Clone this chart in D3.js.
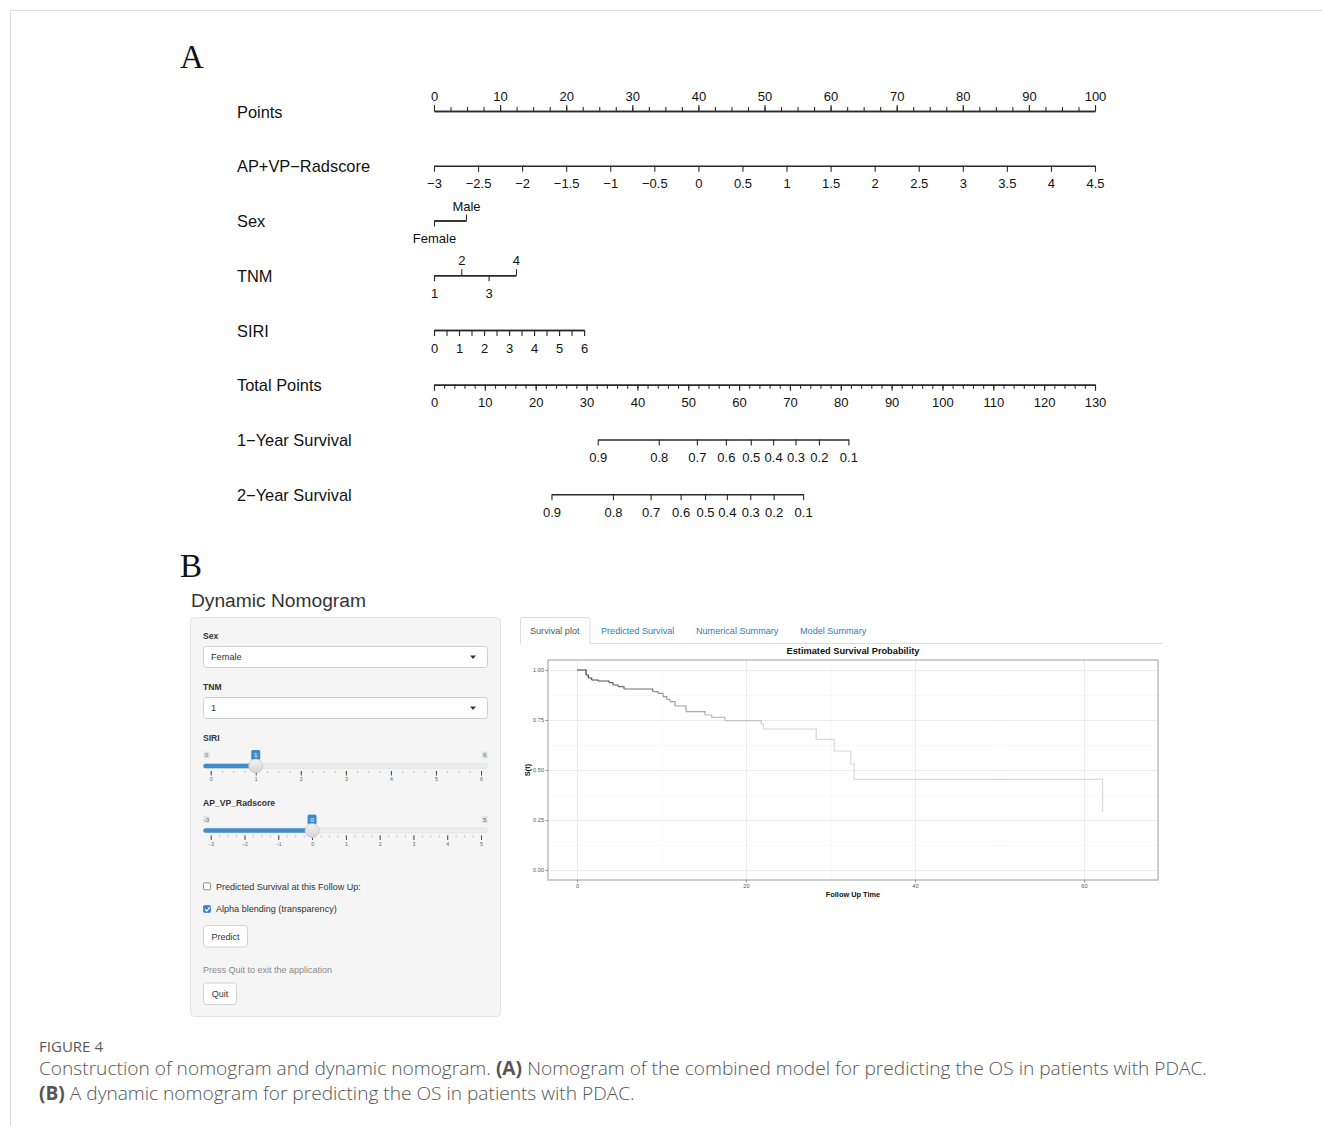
<!DOCTYPE html>
<html>
<head>
<meta charset="utf-8">
<script src="https://cdn.jsdelivr.net/npm/d3@7"></script>
<style>
  body { margin: 0; background: #fff; }
  svg { display: block; }
</style>
</head>
<body>
<svg id="fig" width="1322" height="1126"></svg>
<script>
// ---------- panel A : nomogram ----------
const rowLabels = ["Points", "AP+VP−Radscore", "Sex", "TNM", "SIRI", "Total Points", "1−Year Survival", "2−Year Survival"];
const pointsTicks = d3.range(0, 101, 10);
const radscoreTicks = [-3, -2.5, -2, -1.5, -1, -0.5, 0, 0.5, 1, 1.5, 2, 2.5, 3, 3.5, 4, 4.5];
const radscorePoints = [0, 100];          // points at radscore -3 and 4.5
const sexLevels = ["Female", "Male"];
const sexPoints = [0, 4.84];
const tnmLevels = ["1", "2", "3", "4"];
const tnmPoints = [0, 4.13, 8.26, 12.4];
const siriTicks = [0, 1, 2, 3, 4, 5, 6];
const siriPoints = [0, 22.7];             // points at SIRI 0 and 6
const totalTicks = d3.range(0, 131, 10);
const survTicks = [0.9, 0.8, 0.7, 0.6, 0.5, 0.4, 0.3, 0.2, 0.1];
const oneYearTotals = [32.2, 44.2, 51.7, 57.4, 62.3, 66.7, 71.1, 75.7, 81.5];
const twoYearTotals = [23.1, 35.2, 42.6, 48.5, 53.3, 57.6, 62.2, 66.8, 72.6];

// ---------- panel B : dynamic nomogram ----------
const sexValue = "Female";
const tnmValue = "1";
const siriRange = [0, 6], siriValue = 1;
const radRange = [-3, 5], radValue = 0;
const tabNames = ["Survival plot", "Predicted Survival", "Numerical Summary", "Model Summary"];
const kmTimes = [0, 1.07, 1.34, 1.74, 2.49, 3.79, 4.26, 4.85, 5.56, 8.96, 9.59, 10.18, 10.62, 11.0, 11.6, 12.9, 15.15, 15.94, 17.5, 21.8, 22.05, 28.3, 30.45, 32.4, 32.8, 62.2];
const kmSurv  = [1.0, 0.975, 0.96, 0.95, 0.945, 0.937, 0.925, 0.917, 0.905, 0.892, 0.883, 0.867, 0.853, 0.842, 0.82, 0.792, 0.775, 0.763, 0.747, 0.73, 0.705, 0.653, 0.595, 0.53, 0.453, 0.29];
const kmXTicks = [0, 20, 40, 60];
const kmYTicks = [0, 0.25, 0.5, 0.75, 1];

const svg = d3.select("#fig");
const SANS = "'Liberation Sans', Arial, Helvetica, sans-serif";

function fit(sel, w) {
  const len = sel.node().getComputedTextLength();
  const fs = parseFloat(sel.attr("font-size"));
  sel.attr("font-size", (fs * w / len).toFixed(2));
  return sel;
}

// frame lines
svg.append("line").attr("x1", 10).attr("x2", 1322).attr("y1", 10.5).attr("y2", 10.5).attr("stroke", "#dcdcdc");
svg.append("line").attr("x1", 10.5).attr("x2", 10.5).attr("y1", 10).attr("y2", 1126).attr("stroke", "#dcdcdc");

// ================= A =================
svg.append("text").attr("x", 180).attr("y", 68).attr("font-family", "'Liberation Serif', 'Times New Roman', serif")
  .attr("font-size", 33).attr("fill", "#111").text("A");

const nomo = svg.append("g");
const rowY = i => 111 + i * 54.75;
const px = d3.scaleLinear([0, 100], [434, 1095]);
const tx = d3.scaleLinear([0, 130], [434, 1095]);
const minus = d => (d < 0 ? "−" : "") + Math.abs(d);
const plain = d3.format("");

nomo.selectAll("text.row").data(rowLabels).join("text")
  .attr("class", "row")
  .attr("x", 237).attr("y", (d, i) => rowY(i) + 6.5)
  .attr("font-family", SANS).attr("font-size", 16.4).attr("fill", "#111")
  .text(d => d);

function axisRow(i, axis) {
  const g = nomo.append("g").attr("transform", `translate(0,${rowY(i)})`).call(axis);
  g.attr("font-family", SANS).attr("font-size", 13);
  g.select(".domain").attr("stroke", "#2a2a2a").attr("stroke-width", 1.3);
  g.selectAll(".tick line").attr("stroke", "#2a2a2a").attr("stroke-width", 1.1);
  g.selectAll(".tick text").attr("fill", "#111");
  return g;
}
const BP = 7.5; // label padding below axis

// Points
axisRow(0, d3.axisTop(px).tickValues(d3.range(0, 100.1, 2.5)).tickSize(4).tickSizeOuter(0).tickFormat(""));
axisRow(0, d3.axisTop(px).tickValues(pointsTicks).tickSize(6).tickSizeOuter(0).tickPadding(4.5).tickFormat(plain));

// Radscore
const radX = d3.scaleLinear([-3, 4.5], radscorePoints.map(px));
axisRow(1, d3.axisBottom(radX).tickValues(radscoreTicks).tickSize(6).tickSizeOuter(0).tickPadding(BP).tickFormat(minus));

// Sex
const sexX = d3.scaleOrdinal(sexLevels, sexPoints.map(px));
axisRow(2, d3.axisBottom(sexX).tickValues(["Female"]).tickSize(6).tickSizeOuter(0).tickPadding(BP));
axisRow(2, d3.axisTop(sexX).tickValues(["Male"]).tickSize(6).tickSizeOuter(0).tickPadding(4));

// TNM
const tnmX = d3.scaleOrdinal(tnmLevels, tnmPoints.map(px));
axisRow(3, d3.axisBottom(tnmX).tickValues(["1", "3"]).tickSize(6).tickSizeOuter(0).tickPadding(BP));
axisRow(3, d3.axisTop(tnmX).tickValues(["2", "4"]).tickSize(6).tickSizeOuter(0).tickPadding(4.5));

// SIRI
const siriX = d3.scaleLinear([0, 6], siriPoints.map(px));
axisRow(4, d3.axisBottom(siriX).tickValues(d3.range(0, 6.01, 0.5)).tickSize(6).tickSizeOuter(0).tickFormat(""));
axisRow(4, d3.axisBottom(siriX).tickValues(siriTicks).tickSize(6).tickSizeOuter(0).tickPadding(BP).tickFormat(plain));

// Total points
axisRow(5, d3.axisBottom(tx).tickValues(d3.range(0, 130.1, 2)).tickSize(4).tickSizeOuter(0).tickFormat(""));
axisRow(5, d3.axisBottom(tx).tickValues(totalTicks).tickSize(6).tickSizeOuter(0).tickPadding(BP).tickFormat(plain));

// survival
const f1 = d3.format(".1f");
const y1X = d3.scaleOrdinal(survTicks, oneYearTotals.map(tx));
axisRow(6, d3.axisBottom(y1X).tickValues(survTicks).tickSize(6).tickSizeOuter(0).tickPadding(BP).tickFormat(f1));
const y2X = d3.scaleOrdinal(survTicks, twoYearTotals.map(tx));
axisRow(7, d3.axisBottom(y2X).tickValues(survTicks).tickSize(6).tickSizeOuter(0).tickPadding(BP).tickFormat(f1));

// ================= B =================
svg.append("text").attr("x", 180).attr("y", 577).attr("font-family", "'Liberation Serif', 'Times New Roman', serif")
  .attr("font-size", 33).attr("fill", "#111").text("B");
fit(svg.append("text").attr("x", 191).attr("y", 607).attr("font-family", SANS)
  .attr("font-size", 19).attr("fill", "#333").text("Dynamic Nomogram"), 175);

// ---- sidebar ----
const side = svg.append("g").attr("font-family", SANS);
side.append("rect").attr("x", 190.5).attr("y", 617.5).attr("width", 310).attr("height", 399).attr("rx", 4)
  .attr("fill", "#f5f5f5").attr("stroke", "#e3e3e3");

function label(y, t) {
  side.append("text").attr("x", 203).attr("y", y).attr("font-size", 8.6).attr("font-weight", "bold")
    .attr("fill", "#333").text(t);
}
function select(y, t) {
  side.append("rect").attr("x", 203.5).attr("y", y).attr("width", 284).attr("height", 21).attr("rx", 3)
    .attr("fill", "#fff").attr("stroke", "#cfcfcf");
  side.append("text").attr("x", 211).attr("y", y + 13.7).attr("font-size", 9.2).attr("fill", "#333").text(t);
  side.append("path").attr("d", `M470,${y + 9}h6l-3,3.5z`).attr("fill", "#333");
}
label(639, "Sex");
select(646.5, sexValue);
label(690, "TNM");
select(697.5, tnmValue);

function slider(y0, name, range, value, step) {
  label(y0, name);
  const sx = d3.scaleLinear(range, [210.7, 481]);
  const by = y0 + 9;
  // min / max boxes
  [[range[0], 203.3], [range[1], 481.5]].forEach(([v, x]) => {
    side.append("rect").attr("x", x).attr("y", by + 1.5).attr("width", 6.5).attr("height", 7).attr("rx", 1)
      .attr("fill", "#e1e3e6");
    side.append("text").attr("x", x + 3.25).attr("y", by + 7).attr("text-anchor", "middle")
      .attr("font-size", 5.5).attr("fill", "#666").text(v);
  });
  const vx = sx(value);
  side.append("rect").attr("x", vx - 4.5).attr("y", by).attr("width", 9).attr("height", 10).attr("rx", 1.5)
    .attr("fill", "#428bca");
  side.append("text").attr("x", vx).attr("y", by + 7.3).attr("text-anchor", "middle")
    .attr("font-size", 6).attr("fill", "#fff").text(value);
  const ty = y0 + 25;
  side.append("rect").attr("x", 203.3).attr("y", ty - 2.3).attr("width", 284.4).attr("height", 4.6).attr("rx", 2.3)
    .attr("fill", "#ededed").attr("stroke", "#dadada").attr("stroke-width", 0.6);
  side.append("rect").attr("x", 203.3).attr("y", ty - 2.3).attr("width", vx - 203.3).attr("height", 4.6).attr("rx", 2.3)
    .attr("fill", "#428bca");
  // grid ticks
  const minor = d3.range(range[0], range[1] + 1e-6, step);
  const gm = side.append("g").attr("transform", `translate(0,${ty + 5})`)
    .call(d3.axisBottom(sx).tickValues(minor).tickSize(2).tickSizeOuter(0).tickFormat(""));
  gm.select(".domain").remove();
  gm.selectAll(".tick line").attr("stroke", "#999").attr("stroke-width", 0.6);
  const majors = d3.range(range[0], range[1] + 1e-6, 1);
  const gM = side.append("g").attr("transform", `translate(0,${ty + 5})`)
    .call(d3.axisBottom(sx).tickValues(majors).tickSize(4.5).tickSizeOuter(0).tickPadding(2).tickFormat(d3.format("")));
  gM.select(".domain").remove();
  gM.attr("font-family", SANS).attr("font-size", 5.2);
  gM.selectAll(".tick line").attr("stroke", "#333").attr("stroke-width", 0.9);
  gM.selectAll(".tick text").attr("fill", "#666");
  // handle
  const grad = svg.append("defs").append("linearGradient").attr("id", "hg" + y0).attr("x1", 0).attr("x2", 0).attr("y1", 0).attr("y2", 1);
  grad.append("stop").attr("offset", "0").attr("stop-color", "#f2f2f2");
  grad.append("stop").attr("offset", "1").attr("stop-color", "#d4d4d4");
  side.append("circle").attr("cx", vx).attr("cy", ty).attr("r", 7).attr("fill", `url(#hg${y0})`)
    .attr("stroke", "#c4c4c4").attr("stroke-width", 0.8);
}
slider(741, "SIRI", siriRange, siriValue, 0.25);
slider(805.5, "AP_VP_Radscore", radRange, radValue, 0.25);

// checkboxes
side.append("rect").attr("x", 203.5).attr("y", 882.8).attr("width", 7).attr("height", 7).attr("rx", 1)
  .attr("fill", "#fff").attr("stroke", "#777").attr("stroke-width", 0.8);
side.append("text").attr("x", 216).attr("y", 889.6).attr("font-size", 9.05).attr("fill", "#333")
  .text("Predicted Survival at this Follow Up:");
side.append("rect").attr("x", 203.5).attr("y", 905.5).attr("width", 7).attr("height", 7).attr("rx", 1)
  .attr("fill", "#3c7fd6").attr("stroke", "#2f6bbd").attr("stroke-width", 0.6);
side.append("path").attr("d", "M205,909.2l1.8,1.8l3,-3.8").attr("fill", "none").attr("stroke", "#fff").attr("stroke-width", 1.2);
side.append("text").attr("x", 216).attr("y", 912.4).attr("font-size", 9.05).attr("fill", "#333")
  .text("Alpha blending (transparency)");

function button(x, y, w, t) {
  side.append("rect").attr("x", x).attr("y", y).attr("width", w).attr("height", 21.5).attr("rx", 3)
    .attr("fill", "#fff").attr("stroke", "#d2d2d2");
  side.append("text").attr("x", x + w / 2).attr("y", y + 14).attr("text-anchor", "middle")
    .attr("font-size", 9).attr("fill", "#333").text(t);
}
button(203.5, 925.5, 44, "Predict");
side.append("text").attr("x", 203).attr("y", 973).attr("font-size", 9).attr("fill", "#8a8a8a")
  .text("Press Quit to exit the application");
button(203.5, 983, 33, "Quit");

// ---- tabs ----
const tabs = svg.append("g").attr("font-family", SANS);
tabs.append("path").attr("d", "M520.5,643.5V619.5q0,-2 2,-2H588q2,0 2,2V643.5").attr("fill", "#fff").attr("stroke", "#ddd");
tabs.append("line").attr("x1", 590).attr("x2", 1162).attr("y1", 643.5).attr("y2", 643.5).attr("stroke", "#ddd");
const tabX = [530, 601, 696, 800];
tabNames.forEach((t, i) => {
  tabs.append("text").attr("x", tabX[i]).attr("y", 634).attr("font-size", 9.1)
    .attr("fill", i === 0 ? "#555" : "#337ab7").text(t);
});

// ---- survival plot ----
const km = svg.append("g").attr("font-family", SANS);
const kx = d3.scaleLinear([-3.43, 68.76], [548, 1158]);
const ky = d3.scaleLinear([-0.05, 1.05], [880, 660]);
fit(km.append("text").attr("x", 853).attr("y", 654).attr("text-anchor", "middle").attr("font-size", 9)
  .attr("font-weight", "bold").attr("fill", "#111").text("Estimated Survival Probability"), 133);

km.append("rect").attr("x", 548).attr("y", 660).attr("width", 610).attr("height", 220).attr("fill", "#fff");
// minor grid
const gxm = km.append("g").attr("transform", "translate(0,880)")
  .call(d3.axisBottom(kx).tickValues([10, 30, 50]).tickSize(-220).tickFormat(""));
const gym = km.append("g").attr("transform", "translate(548,0)")
  .call(d3.axisLeft(ky).tickValues([0.125, 0.375, 0.625, 0.875]).tickSize(-610).tickFormat(""));
[gxm, gym].forEach(g => { g.select(".domain").remove(); g.selectAll(".tick line").attr("stroke", "#f3f3f3").attr("stroke-width", 0.6); });
// major grid
const gxM = km.append("g").attr("transform", "translate(0,880)")
  .call(d3.axisBottom(kx).tickValues(kmXTicks).tickSize(-220).tickFormat(""));
const gyM = km.append("g").attr("transform", "translate(548,0)")
  .call(d3.axisLeft(ky).tickValues(kmYTicks).tickSize(-610).tickFormat(""));
[gxM, gyM].forEach(g => { g.select(".domain").remove(); g.selectAll(".tick line").attr("stroke", "#ebebeb").attr("stroke-width", 1); });

// curve with fading alpha
const shade = d3.scaleLinear().domain([0, 8, 16, 24]).range(["#3a3a3a", "#8c8c8c", "#bdbdbd", "#dadada"]).clamp(true);
d3.range(kmTimes.length - 1).forEach(i => {
  km.append("path")
    .attr("d", `M${kx(kmTimes[i])},${ky(kmSurv[i])}H${kx(kmTimes[i + 1])}V${ky(kmSurv[i + 1])}`)
    .attr("fill", "none").attr("stroke", shade(kmTimes[i])).attr("stroke-width", 1.2);
});

km.append("rect").attr("x", 548).attr("y", 660).attr("width", 610).attr("height", 220)
  .attr("fill", "none").attr("stroke", "#b8b8b8").attr("stroke-width", 1.4);

const ax = km.append("g").attr("transform", "translate(0,880)")
  .call(d3.axisBottom(kx).tickValues(kmXTicks).tickSize(2.5).tickSizeOuter(0).tickPadding(1.5).tickFormat(plain));
const ay = km.append("g").attr("transform", "translate(548,0)")
  .call(d3.axisLeft(ky).tickValues(kmYTicks).tickSize(2.5).tickSizeOuter(0).tickPadding(1.5).tickFormat(d3.format(".2f")));
[ax, ay].forEach(g => {
  g.select(".domain").remove();
  g.attr("font-family", SANS).attr("font-size", 5.6);
  g.selectAll(".tick line").attr("stroke", "#555").attr("stroke-width", 0.6);
  g.selectAll(".tick text").attr("fill", "#555");
});
km.append("text").attr("x", 853).attr("y", 896.5).attr("text-anchor", "middle").attr("font-size", 7.4)
  .attr("font-weight", "bold").attr("fill", "#111").text("Follow Up Time");
km.append("text").attr("transform", "translate(529.5,770) rotate(-90)").attr("text-anchor", "middle")
  .attr("font-size", 7.4).attr("font-weight", "bold").attr("fill", "#111").text("S(t)");

// ================= caption =================
const cap = svg.append("g").attr("font-family", "'Open Sans', 'Noto Sans', sans-serif").attr("fill", "#555");
fit(cap.append("text").attr("x", 39).attr("y", 1052).attr("font-size", 13).attr("fill", "#5a5a5a").text("FIGURE 4"), 64);

// caption line made of separate runs (bold labels), fitted to the reference width
function captionLine(y, runs, width) {
  let fs = 17;
  const els = runs.map(r => cap.append("text").attr("y", y).attr("font-size", fs)
    .attr("font-weight", r.bold ? 700 : 300).text(r.t));
  const space = cap.append("text").attr("font-size", fs).attr("font-weight", 300).text("n");
  const measure = () => {
    const sp = space.node().getComputedTextLength() * 0.45;
    const lens = els.map(e => e.node().getComputedTextLength());
    return { sp, lens, total: d3.sum(lens) + sp * (els.length - 1) };
  };
  let m = measure();
  fs = fs * width / m.total;
  els.forEach(e => e.attr("font-size", fs));
  space.attr("font-size", fs);
  m = measure();
  let x = 39;
  els.forEach((e, i) => { e.attr("x", x); x += m.lens[i] + m.sp; });
  space.remove();
}
captionLine(1075, [
  { t: "Construction of nomogram and dynamic nomogram." },
  { t: "(A)", bold: true },
  { t: "Nomogram of the combined model for predicting the OS in patients with PDAC." }
], 1169);
captionLine(1100, [
  { t: "(B)", bold: true },
  { t: "A dynamic nomogram for predicting the OS in patients with PDAC." }
], 596);
</script>
</body>
</html>
